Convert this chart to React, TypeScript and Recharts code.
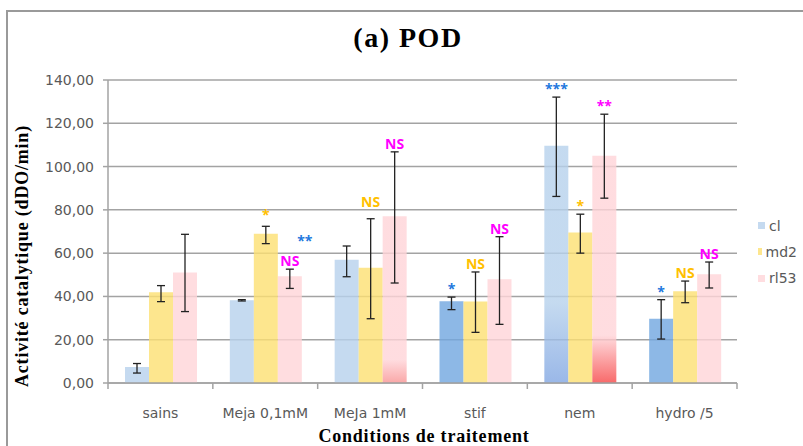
import React from 'react';
import { BarChart, Bar, XAxis, YAxis, CartesianGrid, ErrorBar, Legend, LabelList, Cell } from 'recharts';

const categories = ['sains', 'Meja 0,1mM', 'MeJa 1mM', 'stif', 'nem', 'hydro /5'];
const clValues = [7.4, 38.2, 57.0, 37.8, 109.6, 29.7];
const clErrLow = [2.8, 0.3, 7.9, 3.9, 23.4, 9.4];
const clErrHigh = [1.6, 0.3, 6.3, 1.9, 22.5, 8.8];
const md2Values = [41.9, 69.0, 53.3, 37.7, 69.5, 42.4];
const md2ErrLow = [4.3, 4.6, 23.6, 14.3, 9.5, 5.3];
const md2ErrHigh = [3.1, 3.4, 22.6, 13.6, 8.5, 4.7];
const rl53Values = [51.1, 49.3, 77.0, 47.9, 105.0, 50.2];
const rl53ErrLow = [18.1, 5.6, 30.8, 20.8, 19.6, 6.3];
const rl53ErrHigh = [17.6, 3.3, 29.8, 19.7, 19.2, 5.7];
const clSignif = ['', '**', '', '*', '***', '*'];
const md2Signif = ['', '*', 'NS', 'NS', '*', 'NS'];
const rl53Signif = ['', 'NS', 'NS', 'NS', '**', 'NS'];
const yTicks = [0, 20, 40, 60, 80, 100, 120, 140];
const seriesNames = ['cl', 'md2', 'rl53'];

const data = categories.map((name, i) => ({
  name,
  cl: clValues[i],
  clErr: [clErrLow[i], clErrHigh[i]],
  md2: md2Values[i],
  md2Err: [md2ErrLow[i], md2ErrHigh[i]],
  rl53: rl53Values[i],
  rl53Err: [rl53ErrLow[i], rl53ErrHigh[i]],
}));

const W = 803;
const H = 446;
const MARGIN = { top: 80, right: 6, bottom: 3, left: 0 };
const Y_AXIS_W = 108;
const LEGEND_W = 60;
const X_AXIS_H = 60;
const BAND = (W - MARGIN.left - Y_AXIS_W - MARGIN.right - LEGEND_W) / categories.length;
const AXIS_COLOR = '#a3a3a3';
const TEXT_COLOR = '#595959';

// styles (fill opacity lets the gridlines show through the bars)
const OPACITY = 0.8;
const CL_LIGHT = '#b6d1ec';
const CL_DARK = '#70a6e0';
const MD2_FILL = '#fce072';
const RL53_FILL = '#ffd4d8';
const clCellFill = ['light', 'light', 'light', 'dark', 'grad', 'dark'];
const rl53CellFill = ['plain', 'plain', 'gradSoft', 'plain', 'grad', 'plain'];
const legendColors: Record<string, string> = { cl: '#c5daf0', md2: '#fde68e', rl53: '#ffdde0' };
const sigColors = { cl: '#2277dd', md2: '#ffc000', rl53: '#ff00ff' };
// placement tweaks for some annotations (relative to their default position)
const specialShift: Record<string, Record<number, { dx: number; dy: number }>> = {
  cl: { 1: { dx: 63, dy: -51 } },
  md2: { 1: { dx: 0, dy: -3 }, 2: { dx: 0, dy: -9 } },
};

const makeSigLabel = (key: string, signif: string[], values: number[], errHigh: number[], color: string) =>
  (props: any) => {
    const vb = props.viewBox && props.viewBox.width != null ? props.viewBox : props;
    const x = Number(vb.x);
    const y = Number(vb.y);
    const width = Number(vb.width);
    const height = Number(vb.height);
    const index = props.index;
    const text = signif[index];
    if (!text) return null;
    const pxPerUnit = height / values[index];
    const errTop = y - errHigh[index] * pxPerUnit;
    const shift = (specialShift[key] && specialShift[key][index]) || { dx: 0, dy: 0 };
    return (
      <text
        x={x + width / 2 + shift.dx}
        y={errTop - 3 + shift.dy}
        textAnchor="middle"
        fill={color}
        fontFamily="'Open Sans', sans-serif"
        fontWeight={700}
        fontSize={14}
      >
        {text}
      </text>
    );
  };

const XTick = (props: any) => {
  const { x, y, payload, index } = props;
  const half = BAND / 2;
  return (
    <g>
      <line x1={x - half} x2={x - half} y1={y} y2={y + 6} stroke={AXIS_COLOR} strokeWidth={1.5} />
      {index === categories.length - 1 && (
        <line x1={x + half} x2={x + half} y1={y} y2={y + 6} stroke={AXIS_COLOR} strokeWidth={1.5} />
      )}
      <text x={x} y={y + 35} textAnchor="middle" fill={TEXT_COLOR} fontSize={14} fontFamily="'DejaVu Sans', sans-serif">
        {payload.value}
      </text>
    </g>
  );
};

const LegendContent = (props: any) => {
  const payload = (props.payload || []) as any[];
  const names = payload.length ? payload.map((p) => p.value) : seriesNames;
  return (
    <div style={{ paddingLeft: 21, fontFamily: "'DejaVu Sans', sans-serif", fontSize: 14, color: TEXT_COLOR }}>
      {names.map((n: string) => (
        <div key={n} style={{ display: 'flex', alignItems: 'center', height: 26.3 }}>
          <span style={{ width: 7, height: 7, background: legendColors[n], marginRight: 4, display: 'inline-block' }} />
          <span>{n}</span>
        </div>
      ))}
    </div>
  );
};

export default function App() {
  return (
    <div style={{ position: 'absolute', left: 0, top: 0, width: W, height: H, background: '#fff' }}>
      <BarChart
        width={W}
        height={H}
        data={data}
        margin={MARGIN}
        barCategoryGap={17}
        barGap={0}
      >
        <defs>
          <linearGradient id="clGrad" x1="0" y1="0" x2="0" y2="1">
            <stop offset="0" stopColor={CL_LIGHT} />
            <stop offset="0.66" stopColor={CL_LIGHT} />
            <stop offset="1" stopColor="#81a6e2" />
          </linearGradient>
          <linearGradient id="rlGrad" x1="0" y1="0" x2="0" y2="1">
            <stop offset="0" stopColor={RL53_FILL} />
            <stop offset="0.79" stopColor={RL53_FILL} />
            <stop offset="1" stopColor="#f64545" />
          </linearGradient>
          <linearGradient id="rlGradSoft" x1="0" y1="0" x2="0" y2="1">
            <stop offset="0" stopColor={RL53_FILL} />
            <stop offset="0.86" stopColor={RL53_FILL} />
            <stop offset="1" stopColor="#f89292" />
          </linearGradient>
        </defs>
        <CartesianGrid vertical={false} stroke={AXIS_COLOR} strokeWidth={1.5} />
        <XAxis
          dataKey="name"
          height={X_AXIS_H}
          axisLine={{ stroke: AXIS_COLOR, strokeWidth: 1.5 }}
          tickLine={false}
          tickSize={0}
          tickMargin={0}
          tick={<XTick />}
          interval={0}
        />
        <YAxis
          width={Y_AXIS_W}
          domain={[0, 140]}
          ticks={yTicks}
          interval={0}
          axisLine={{ stroke: AXIS_COLOR, strokeWidth: 1.5 }}
          tickLine={{ stroke: AXIS_COLOR, strokeWidth: 1.5 }}
          tickSize={5}
          tickMargin={9}
          tick={{ fill: TEXT_COLOR, fontSize: 14, fontFamily: "'DejaVu Sans', sans-serif" }}
          tickFormatter={(v: number) => v.toFixed(2).replace('.', ',')}
        />
        <Legend
          layout="vertical"
          align="right"
          verticalAlign="middle"
          content={<LegendContent />}
          wrapperStyle={{ width: LEGEND_W, top: 212.5 }}
        />
        <Bar dataKey="cl" name="cl" fill={CL_LIGHT} fillOpacity={OPACITY} isAnimationActive={false}>
          {data.map((d, i) => (
            <Cell
              key={d.name}
              fill={clCellFill[i] === 'dark' ? CL_DARK : clCellFill[i] === 'grad' ? 'url(#clGrad)' : CL_LIGHT}
            />
          ))}
          <ErrorBar dataKey="clErr" width={4} stroke="#222" strokeWidth={1.3} />
          <LabelList dataKey="cl" content={makeSigLabel('cl', clSignif, clValues, clErrHigh, sigColors.cl)} />
        </Bar>
        <Bar dataKey="md2" name="md2" fill={MD2_FILL} fillOpacity={OPACITY} isAnimationActive={false}>
          <ErrorBar dataKey="md2Err" width={4} stroke="#222" strokeWidth={1.3} />
          <LabelList dataKey="md2" content={makeSigLabel('md2', md2Signif, md2Values, md2ErrHigh, sigColors.md2)} />
        </Bar>
        <Bar dataKey="rl53" name="rl53" fill={RL53_FILL} fillOpacity={OPACITY} isAnimationActive={false}>
          {data.map((d, i) => (
            <Cell
              key={d.name}
              fill={rl53CellFill[i] === 'grad' ? 'url(#rlGrad)' : rl53CellFill[i] === 'gradSoft' ? 'url(#rlGradSoft)' : RL53_FILL}
            />
          ))}
          <ErrorBar dataKey="rl53Err" width={4} stroke="#222" strokeWidth={1.3} />
          <LabelList dataKey="rl53" content={makeSigLabel('rl53', rl53Signif, rl53Values, rl53ErrHigh, sigColors.rl53)} />
        </Bar>
      </BarChart>
      <svg width={W} height={H} style={{ position: 'absolute', left: 0, top: 0, pointerEvents: 'none' }}>
        <line x1={7} y1={11} x2={W} y2={11} stroke="#9a9a9a" strokeWidth={2} />
        <line x1={7} y1={10} x2={7} y2={H} stroke="#9a9a9a" strokeWidth={2} />
        <text x={408} y={47} textAnchor="middle" fontFamily="'Liberation Serif', serif" fontWeight={700} fontSize={28} letterSpacing={1.5} fill="#000">
          (a) POD
        </text>
        <text
          x={22}
          y={256}
          transform="rotate(-90, 22, 256)"
          textAnchor="middle"
          dominantBaseline="central"
          fontFamily="'Liberation Serif', serif"
          fontWeight={700}
          fontSize={18}
          letterSpacing={0.8}
          fill="#000"
        >
          Activité catalytique (dDO/min)
        </text>
        <text x={424} y={442} textAnchor="middle" fontFamily="'Liberation Serif', serif" fontWeight={700} fontSize={18} letterSpacing={0.8} fill="#000">
          Conditions de traitement
        </text>
      </svg>
    </div>
  );
}
